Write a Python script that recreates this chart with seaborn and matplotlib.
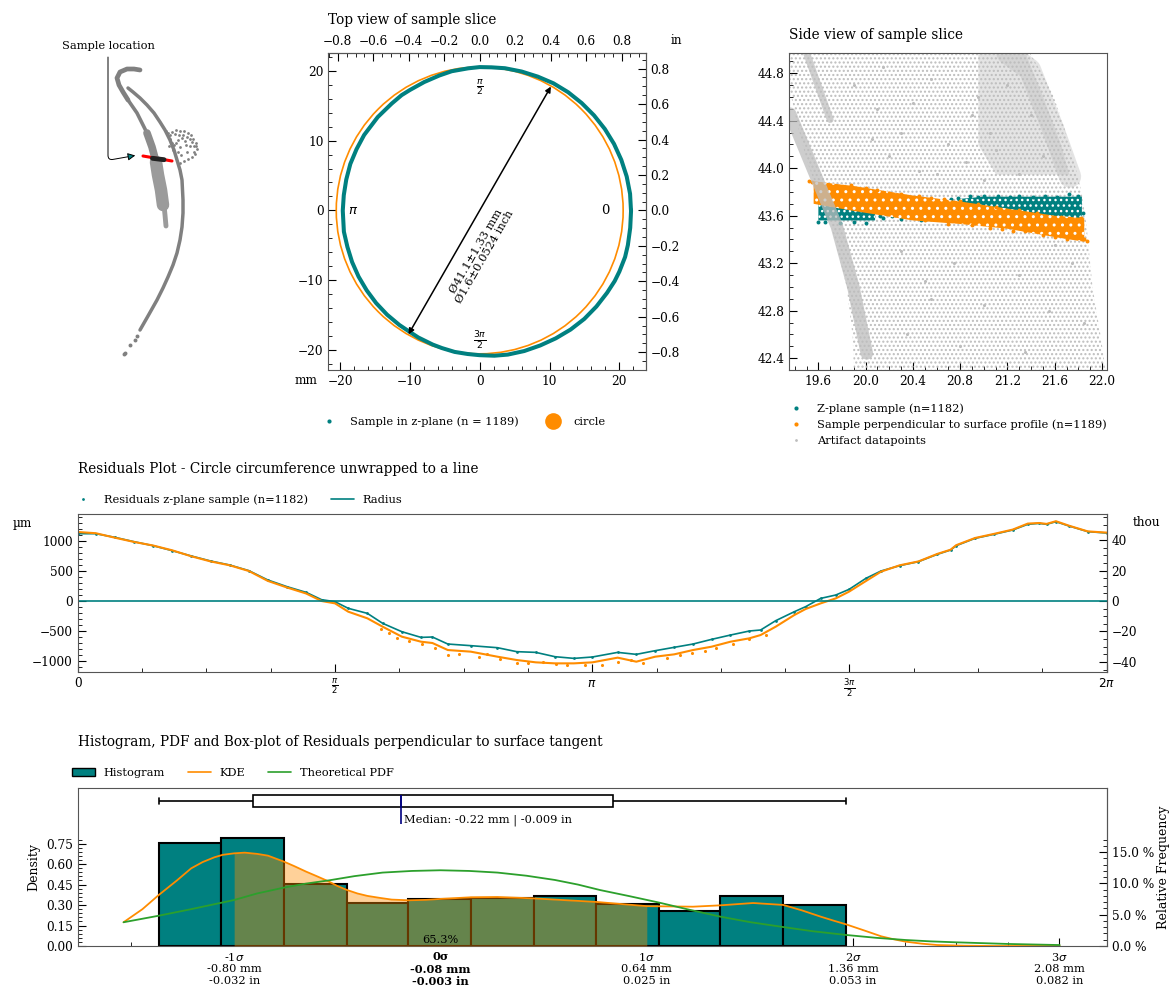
import numpy as np
import matplotlib
matplotlib.use('Agg')
import matplotlib.pyplot as plt
from matplotlib.lines import Line2D
from matplotlib.patches import Circle, Patch
from matplotlib.ticker import AutoMinorLocator
import seaborn as sns

sns.set_style('ticks')
plt.rcParams['font.family'] = ['DejaVu Serif']
plt.rcParams['font.size'] = 8.2
plt.rcParams['legend.fontsize'] = 8.2
plt.rcParams['axes.labelsize'] = 9
plt.rcParams['xtick.labelsize'] = 8.7
plt.rcParams['ytick.labelsize'] = 8.7
plt.rcParams['xtick.direction'] = 'in'
plt.rcParams['ytick.direction'] = 'in'
plt.rcParams['xtick.major.size'] = 6
plt.rcParams['ytick.major.size'] = 6
plt.rcParams['xtick.minor.size'] = 3
plt.rcParams['ytick.minor.size'] = 3
plt.rcParams['xtick.color'] = 'black'
plt.rcParams['ytick.color'] = 'black'
plt.rcParams['text.color'] = 'black'
plt.rcParams['axes.labelcolor'] = 'black'
plt.rcParams['axes.edgecolor'] = '#555555'
plt.rcParams['hatch.linewidth'] = 1.0

TEAL = 'teal'
ORANGE = 'darkorange'
GREY = '#bdbdbd'
TITLE = 9.8

# overview scan, left panel
main_x = [140, 148, 157, 163, 168, 173, 177, 180, 182, 183, 183, 182, 180, 177, 174, 170, 165, 160, 154, 147, 140, 133,
          128]
main_y = [330, 316, 300, 288, 277, 265, 253, 240, 227, 213, 200, 180, 170, 160, 150, 140, 130, 122, 113, 105, 98, 92, 88]
tail_x = [124, 125, 130, 135, 137]
tail_y = [354, 353, 345, 340, 336]
hook_x = [140, 134, 127, 120, 117, 119, 123, 128]
hook_y = [70, 69, 69, 72, 78, 85, 92, 100]
inner_x = [128, 137, 147]
inner_y = [100, 113, 133]
mid_x = [147, 152, 156]
mid_y = [133, 147, 162]
lower_x = [156, 158, 161, 163]
lower_y = [162, 175, 190, 205]
end_x = [164, 165, 166]
end_y = [205, 215, 226]
blob_x = [168, 172, 176, 180, 184, 188, 191, 193, 196, 197, 195, 192, 188, 184, 180, 176, 178, 182, 186, 174, 170, 173,
          178, 190, 187, 181, 166, 170, 175, 179, 183, 187, 192, 194, 190, 185, 180, 176, 172, 169, 196, 194]
blob_y = [133, 132, 130, 131, 131, 133, 135, 139, 143, 149, 154, 157, 159, 161, 163, 158, 140, 138, 145, 145, 139, 150,
          152, 146, 152, 155, 131, 135, 134, 135, 135, 137, 142, 146, 139, 141, 147, 143, 143, 146, 146, 152]
red_x = [143, 172]
red_y = [156, 161]
black_x = [152.5, 164]
black_y = [158.3, 159.7]

# residuals along the circumference
res_angle = [0, 0.11, 0.227, 0.343, 0.46, 0.577, 0.694, 0.811, 0.928, 1.045, 1.161, 1.278, 1.395, 1.489, 1.571, 1.652,
             1.769, 1.862, 1.979, 2.096, 2.166, 2.26, 2.4, 2.563, 2.68, 2.797, 2.914, 3.03, 3.143, 3.297, 3.411, 3.526,
             3.642, 3.757, 3.871, 3.986, 4.101, 4.17, 4.262, 4.376, 4.445, 4.537, 4.629, 4.71, 4.813, 4.905, 5.019,
             5.134, 5.249, 5.33, 5.364, 5.479, 5.594, 5.709, 5.801, 5.87, 5.916, 5.973, 6.053, 6.168, 6.283]
res_teal = [1122, 1122, 1061, 989, 922, 839, 750, 667, 600, 506, 350, 239, 144, 22, -11, -122, -206, -372, -511, -606,
            -600, -717, -744, -778, -844, -856, -928, -956, -933, -856, -889, -828, -772, -717, -639, -567, -500, -483,
            -328, -178, -94, 44, 100, 194, 378, 500, 589, 656, 778, 850, 922, 1044, 1111, 1183, 1278, 1294, 1278, 1322,
            1250, 1156, 1133]
res_orange = [1150, 1130, 1055, 985, 925, 845, 745, 660, 595, 500, 335, 225, 125, 0, -39, -178, -289, -428, -594, -678,
              -700, -817, -844, -928, -983, -1022, -1039, -1039, -1022, -944, -1011, -928, -889, -817, -761, -678, -622,
              -567, -428, -233, -133, -39, 44, 156, 333, 489, 595, 660, 785, 855, 930, 1050, 1118, 1190, 1290, 1300,
              1285, 1330, 1255, 1160, 1140]
low_angle = [1.85, 1.9, 1.95, 2.02, 2.1, 2.18, 2.26, 2.33, 2.45, 2.5, 2.58, 2.68, 2.75, 2.84, 2.92, 2.99, 3.1, 3.2, 3.3,
             3.38, 3.45, 3.6, 3.68, 3.75, 3.83, 3.9, 4.0, 4.1, 4.2]
low_orange = [-460, -530, -620, -670, -720, -790, -900, -880, -928, -889, -960, -1039, -1040, -1022, -1050, -1067, -1070,
              -1060, -1010, -980, -1030, -950, -900, -870, -830, -790, -720, -640, -560]

# side view
cloud_y = [44.97, 44.69, 44.38, 44.07, 43.79, 43.51, 43.0, 42.58, 42.3]
cloud_right = [21.39, 21.56, 21.67, 21.76, 21.83, 21.87, 21.92, 21.99, 22.03]
cloud_left = [19.35, 19.35, 19.42, 19.5, 19.6, 19.71, 19.84, 19.89, 19.9]
dense_y = [44.97, 44.6, 44.2, 43.95]
dense_left = [20.95, 20.95, 20.95, 21.1]
dense_right = [21.35, 21.5, 21.65, 21.72]
band1_x = [19.36, 19.557, 19.756, 19.896, 20.01]
band1_y = [44.46, 43.985, 43.51, 43.0, 42.44]
band2_x = [19.5, 19.7]
band2_y = [44.97, 44.41]
band3_x = [21.2, 21.39, 21.59, 21.73]
band3_y = [44.97, 44.83, 44.32, 43.93]
grey_x = [19.9, 20.1, 20.3, 20.55, 20.7, 20.95, 21.05, 20.2, 20.45, 20.85, 21.1, 21.3, 21.4, 21.5, 21.2, 21.0, 20.9,
          20.6, 20.4, 20.15, 20.05, 20.3, 20.5, 20.75, 21.0, 21.3, 21.55, 21.75, 21.85, 20.35, 20.55, 20.8, 21.35, 21.6]
grey_y = [44.7, 44.5, 44.3, 44.75, 44.2, 44.6, 44.3, 44.1, 43.98, 44.05, 44.15, 43.95, 44.45, 44.1, 44.7, 43.9, 44.45,
          43.95, 44.55, 44.85, 44.25, 43.3, 43.05, 43.2, 42.85, 43.1, 42.8, 43.2, 42.7, 42.6, 42.9, 42.5, 42.45, 43.35]
orange_x = [19.56, 19.9, 20.4, 20.8, 21.2, 21.6, 21.85]
orange_top = [43.89, 43.85, 43.77, 43.72, 43.66, 43.6, 43.58]
orange_bot = [43.70, 43.64, 43.56, 43.53, 43.49, 43.42, 43.38]
teal_left_x = [19.6, 19.75, 19.95, 20.08]
teal_left_top = [43.72, 43.68, 43.65, 43.62]
teal_left_bot = [43.56, 43.56, 43.56, 43.56]
teal_right_x = [20.78, 21.0, 21.4, 21.83]
teal_right_top = [43.74, 43.76, 43.76, 43.76]
teal_right_bot = [43.68, 43.64, 43.6, 43.56]
teal_px = [20.12, 20.15, 20.22, 20.3, 20.33, 20.42, 20.47, 20.62, 20.72, 20.78, 20.88, 20.95, 21.0, 21.12, 21.22, 21.3,
           21.42, 21.52, 21.62, 21.72, 21.8, 21.84, 19.6, 19.66, 19.78, 19.9, 20.0]
teal_py = [43.6, 43.58, 43.6, 43.57, 43.61, 43.59, 43.56, 43.58, 43.74, 43.75, 43.77, 43.76, 43.77, 43.77, 43.76,
           43.77, 43.76, 43.77, 43.76, 43.78, 43.77, 43.62, 43.55, 43.55, 43.54, 43.55, 43.54]
orange_px = [19.52, 19.55, 19.62, 19.75, 19.88, 20.0, 20.1, 20.2, 20.3, 20.45, 20.55, 20.66, 20.8, 20.95, 21.05, 21.15,
             21.25, 21.35, 21.5, 21.6, 21.7, 21.85, 21.87, 21.82, 21.65, 21.45, 21.3, 21.1, 20.9, 20.7, 20.5, 20.2]
orange_py = [43.89, 43.88, 43.87, 43.85, 43.86, 43.83, 43.82, 43.79, 43.78, 43.77, 43.75, 43.74, 43.72, 43.7, 43.5,
             43.49, 43.47, 43.47, 43.44, 43.42, 43.4, 43.4, 43.39, 43.58, 43.59, 43.62, 43.65, 43.67, 43.52, 43.53,
             43.56, 43.62]

# histogram of residuals, mm
bin_edges = [-1.063, -0.846, -0.626, -0.407, -0.192, 0.027, 0.245, 0.463, 0.683, 0.897, 1.116, 1.335]
bin_density = [0.757, 0.79, 0.4545, 0.313, 0.342, 0.35, 0.364, 0.305, 0.257, 0.364, 0.30]
kde_x = [-1.186, -1.12, -1.063, -1.0, -0.95, -0.91, -0.869, -0.84, -0.8, -0.763, -0.72, -0.682, -0.626, -0.59, -0.549,
         -0.51, -0.469, -0.44, -0.407, -0.37, -0.335, -0.29, -0.25, -0.192, -0.13, -0.08, 0.027, 0.119, 0.245, 0.463,
         0.64, 0.683, 0.801, 0.897, 1.011, 1.116, 1.18, 1.247, 1.29, 1.335, 1.4, 1.458, 1.5, 1.543, 1.6, 1.654, 1.75,
         1.851, 2.081]
kde_y = [0.174, 0.27, 0.374, 0.48, 0.569, 0.615, 0.65, 0.668, 0.679, 0.684, 0.675, 0.662, 0.618, 0.585, 0.545, 0.51,
         0.472, 0.44, 0.411, 0.385, 0.367, 0.352, 0.34, 0.335, 0.338, 0.345, 0.357, 0.359, 0.349, 0.323, 0.292, 0.291,
         0.288, 0.298, 0.315, 0.301, 0.262, 0.215, 0.187, 0.159, 0.113, 0.071, 0.05, 0.032, 0.017, 0.007, 0.002, 0.0,
         0.0]
pdf_x = [-1.186, -1.063, -0.95, -0.8, -0.72, -0.626, -0.55, -0.469, -0.38, -0.282, -0.18, -0.08, 0.02, 0.119, 0.22,
         0.319, 0.4, 0.477, 0.58, 0.683, 0.79, 0.897, 1.0, 1.116, 1.22, 1.335, 1.44, 1.543, 1.63, 1.72, 1.9, 2.081]
pdf_y = [0.174, 0.222, 0.27, 0.337, 0.385, 0.428, 0.457, 0.481, 0.512, 0.538, 0.55, 0.555, 0.55, 0.538, 0.515, 0.484,
         0.45, 0.41, 0.365, 0.318, 0.265, 0.215, 0.175, 0.139, 0.108, 0.081, 0.06, 0.044, 0.034, 0.027, 0.015, 0.007]
box_stats = [-1.063, -0.733, -0.218, 0.522, 1.335]
sigma_mm = [-0.80, -0.08, 0.64, 1.36, 2.08]
sigma_labels = ['-1$\\sigma$\n-0.80 mm\n-0.032 in', '0σ\n-0.08 mm\n-0.003 in', '1$\\sigma$\n0.64 mm\n0.025 in',
                '2$\\sigma$\n1.36 mm\n0.053 in', '3$\\sigma$\n2.08 mm\n0.082 in']
density_ticks = [0.0, 0.15, 0.30, 0.45, 0.60, 0.75]
percent_ticks = [0.0, 0.05, 0.10, 0.15]
radius_mm = 20.55
bin_width = 0.218

W, H = 1170, 989
fig = plt.figure(figsize=(W / 100, H / 100), dpi=100)


def add_ax(left, top, right, bottom):
    return fig.add_axes([left / W, 1 - bottom / H, (right - left) / W, (bottom - top) / H])


def fig_text(x, y, s, **kw):
    fig.text(x / W, 1 - y / H, s, **kw)


def fig_legend(x, y, handles, **kw):
    fig.legend(handles=handles, loc='center left', bbox_to_anchor=(x / W, 1 - y / H), frameon=False,
               borderaxespad=0, borderpad=0, **kw)


def line(ax, x, y, color, lw, **kw):
    sns.lineplot(x=x, y=y, ax=ax, color=color, linewidth=lw, sort=False, estimator=None, legend=False, **kw)


def dot(color, size, label):
    return Line2D([], [], marker='o', ls='none', color=color, markersize=size, markeredgewidth=0, label=label)


# overview
ax0 = add_ax(45, 50, 215, 365)
ax0.set_xlim(45, 215)
ax0.set_ylim(365, 50)
ax0.axis('off')
line(ax0, main_x, main_y, 'gray', 2.5)
line(ax0, hook_x, hook_y, 'gray', 3.4)
line(ax0, inner_x, inner_y, 'gray', 2.6)
line(ax0, mid_x, mid_y, '#8c8c8c', 5.5)
line(ax0, lower_x, lower_y, '#9b9b9b', 9)
line(ax0, end_x, end_y, '#9b9b9b', 3.5)
sns.scatterplot(x=tail_x, y=tail_y, ax=ax0, color='gray', s=8, linewidth=0)
sns.scatterplot(x=blob_x, y=blob_y, ax=ax0, color='gray', s=4, linewidth=0)
line(ax0, red_x, red_y, 'red', 2.2)
line(ax0, black_x, black_y, '#222222', 3.5)
ax0.annotate('Sample location', xy=(138, 155), xytext=(108, 46), ha='center', va='center',
             arrowprops=dict(arrowstyle='-|>', color='black', fc=TEAL, lw=0.7, mutation_scale=11, shrinkA=2,
                             connectionstyle='angle,angleA=-90,angleB=-170,rad=5'))

# top view
ax1 = add_ax(328.3, 52.7, 645.7, 370)
ring_x = [(radius_mm + r / 1000) * np.cos(a) for a, r in zip(res_angle, res_teal)]
ring_y = [(radius_mm + r / 1000) * np.sin(a) for a, r in zip(res_angle, res_teal)]
line(ax1, ring_x, ring_y, TEAL, 2.9)
ax1.add_patch(Circle((0, 0), radius_mm, fill=False, color=ORANGE, lw=1.2))
ax1.annotate('', xy=(10.2, 17.75), xytext=(-10.2, -17.75),
             arrowprops=dict(arrowstyle='<|-|>', color='black', lw=1.1, shrinkA=0, shrinkB=0))
ax1.text(0.1, -6.2, 'Ø41.1±1.33 mm\nØ1.6±0.0524 inch', rotation=60, ha='center', va='center', linespacing=1.1,
         rotation_mode='anchor')
ax1.text(17.95, 0, '0', ha='center', va='center', fontsize=9.5)
ax1.text(-18.1, 0, '$\\pi$', ha='center', va='center', fontsize=9.5)
ax1.text(0, 17.7, '$\\frac{\\pi}{2}$', ha='center', va='center', fontsize=9.5)
ax1.text(0, -18.7, '$\\frac{3\\pi}{2}$', ha='center', va='center', fontsize=9.5)
ax1.set_xlim(-21.69, 23.78)
ax1.set_ylim(-22.87, 22.6)
ax1.set_xticks([-20, -10, 0, 10, 20])
ax1.set_yticks([-20, -10, 0, 10, 20])
ax1.xaxis.set_minor_locator(AutoMinorLocator())
ax1.yaxis.set_minor_locator(AutoMinorLocator())
top_in = ax1.secondary_xaxis('top', functions=(lambda v: v / 25.4, lambda v: v * 25.4))
right_in = ax1.secondary_yaxis('right', functions=(lambda v: v / 25.4, lambda v: v * 25.4))
for sec in (top_in, right_in):
    sec.set_ticks(np.arange(-0.8, 0.81, 0.2))
    sec.minorticks_on()
ax1.set_title('Top view of sample slice', loc='left', fontsize=TITLE, pad=21)
fig_text(306, 381, 'mm', ha='center', va='center', fontsize=8.7)
fig_text(676, 40, 'in', ha='center', va='center', fontsize=8.7)
fig_legend(318, 422, [dot(TEAL, 3, 'Sample in z-plane (n = 1189)'), dot(ORANGE, 12, 'circle')], ncol=2,
           handletextpad=0.8)

# side view
ax2 = add_ax(789.3, 53.3, 1106.7, 370)
ax2.fill_betweenx(dense_y, dense_left, dense_right, color='#e4e4e4', linewidth=0)
ax2.fill_betweenx(cloud_y, cloud_left, cloud_right, facecolor='none', edgecolor=GREY, hatch='....', linewidth=0)
line(ax2, band1_x, band1_y, GREY, 9, alpha=0.75)
line(ax2, band2_x, band2_y, GREY, 5, alpha=0.7)
line(ax2, band3_x, band3_y, GREY, 16, alpha=0.4)
sns.scatterplot(x=grey_x, y=grey_y, ax=ax2, color=GREY, s=5, linewidth=0)
ax2.fill_between(teal_left_x, teal_left_bot, teal_left_top, facecolor=TEAL, edgecolor='white', hatch='...', linewidth=0)
ax2.fill_between(teal_right_x, teal_right_bot, teal_right_top, facecolor=TEAL, edgecolor='white', hatch='...', linewidth=0)
sns.scatterplot(x=teal_px, y=teal_py, ax=ax2, color=TEAL, s=8, linewidth=0)
ax2.fill_between(orange_x, orange_bot, orange_top, facecolor=ORANGE, edgecolor='white', hatch='..', linewidth=0)
sns.scatterplot(x=orange_px, y=orange_py, ax=ax2, color=ORANGE, s=8, linewidth=0)
ax2.set_xlim(19.354, 22.04)
ax2.set_ylim(42.30, 44.968)
ax2.set_xticks([19.6, 20.0, 20.4, 20.8, 21.2, 21.6, 22.0])
ax2.set_yticks([42.4, 42.8, 43.2, 43.6, 44.0, 44.4, 44.8])
ax2.xaxis.set_minor_locator(AutoMinorLocator())
ax2.yaxis.set_minor_locator(AutoMinorLocator())
ax2.set_title('Side view of sample slice', loc='left', fontsize=TITLE, pad=10)
fig_legend(785, 424.5, [dot(TEAL, 3, 'Z-plane sample (n=1182)'), dot(ORANGE, 3, 'Sample perpendicular to surface profile (n=1189)'),
                        dot(GREY, 2, 'Artifact datapoints')], handletextpad=0.8)

# residuals
ax3 = add_ax(77.7, 514.3, 1106.7, 672.3)
line(ax3, res_angle, res_teal, TEAL, 1.2)
line(ax3, res_angle, res_orange, ORANGE, 1.5)
sns.scatterplot(x=low_angle, y=low_orange, ax=ax3, color=ORANGE, s=5, linewidth=0)
sns.scatterplot(x=res_angle, y=res_teal, ax=ax3, color=TEAL, s=4, linewidth=0)
ax3.axhline(0, color=TEAL, lw=1.2)
ax3.set_xlim(0, 2 * np.pi)
ax3.set_ylim(-1188, 1445)
ax3.set_xticks([0, np.pi / 2, np.pi, 3 * np.pi / 2, 2 * np.pi])
ax3.set_xticklabels(['0', '$\\frac{\\pi}{2}$', '$\\pi$', '$\\frac{3\\pi}{2}$', '$2\\pi$'])
ax3.set_xticks(np.arange(0, 2 * np.pi, np.pi / 8), minor=True)
ax3.set_yticks([-1000, -500, 0, 500, 1000])
ax3.yaxis.set_minor_locator(AutoMinorLocator())
thou = ax3.secondary_yaxis('right', functions=(lambda v: v / 25.4, lambda v: v * 25.4))
thou.set_ticks([-40, -20, 0, 20, 40])
thou.minorticks_on()
ax3.set_title('Residuals Plot - Circle circumference unwrapped to a line', loc='left', fontsize=TITLE, pad=30)
fig_text(22, 524, 'µm', ha='center', va='center', fontsize=8.7)
fig_text(1147, 523, 'thou', ha='center', va='center', fontsize=8.7)
fig_legend(72, 500, [dot(TEAL, 2, 'Residuals z-plane sample (n=1182)'), Line2D([], [], color=TEAL, lw=1.2, label='Radius')],
           ncol=2, handletextpad=0.8)

# histogram
ax4 = add_ax(77.7, 787.7, 1106.7, 946)
bin_centers = [(a + b) / 2 for a, b in zip(bin_edges[:-1], bin_edges[1:])]
sns.histplot(x=bin_centers, weights=bin_density, bins=bin_edges, ax=ax4, color=TEAL, edgecolor='black', linewidth=1.5,
             alpha=1)
kde_xa = np.array(kde_x)
kde_ya = np.array(kde_y)
inside = (kde_xa >= sigma_mm[0]) & (kde_xa <= sigma_mm[2])
ax4.fill_between(kde_xa[inside], 0, kde_ya[inside], color=ORANGE, alpha=0.4, linewidth=0, zorder=3)
line(ax4, kde_x, kde_y, ORANGE, 1.3, zorder=4)
line(ax4, pdf_x, pdf_y, 'tab:green', 1.3, zorder=4)
sns.boxplot(x=box_stats, y=[1.063] * 5, orient='h', native_scale=True, width=0.086, whis=(0, 100), ax=ax4,
            color='white', linecolor='black', linewidth=1.2, fliersize=0, capwidths=0.05,
            medianprops=dict(color='navy', lw=1.2))
ax4.vlines(box_stats[2], 0.896, 1.106, color='navy', lw=1.2)
ax4.text(box_stats[2] + 0.012, 0.924, 'Median: -0.22 mm | -0.009 in', va='center', ha='left')
ax4.text(sigma_mm[1], 0.044, '65.3%', ha='center', va='center', zorder=6)
ax4.set_xlim(-1.346, 2.245)
ax4.set_ylim(0, 1.16)
ax4.set_ylabel('Density', labelpad=4)
ax4.set_xlabel('')
ax4.set_xticks(sigma_mm)
ax4.set_xticklabels(sigma_labels, fontsize=8.2)
ax4.get_xticklabels()[1].set_fontweight('bold')
ax4.set_xticks(np.arange(-1.16, 2.09, 0.18), minor=True)
ax4.set_yticks(density_ticks)
ax4.set_yticks(np.arange(0, 0.8, 0.03), minor=True)
ax4.tick_params(axis='y', left=True)
freq = ax4.secondary_yaxis('right', functions=(lambda v: v * bin_width, lambda v: v / bin_width))
freq.set_ticks(percent_ticks, labels=['%.1f %%' % (p * 100) for p in percent_ticks])
freq.set_ticks(np.arange(0, 0.171, 0.01), minor=True)
freq.set_ylabel('Relative Frequency', labelpad=2)
ax4.set_title('Histogram, PDF and Box-plot of Residuals perpendicular to surface tangent', loc='left', fontsize=TITLE,
              pad=30)
fig_legend(72, 773, [Patch(facecolor=TEAL, edgecolor='black', label='Histogram'),
                     Line2D([], [], color=ORANGE, lw=1.2, label='KDE'),
                     Line2D([], [], color='tab:green', lw=1.2, label='Theoretical PDF')],
           ncol=3, handletextpad=0.8)

fig.savefig('out.png', dpi=100)
